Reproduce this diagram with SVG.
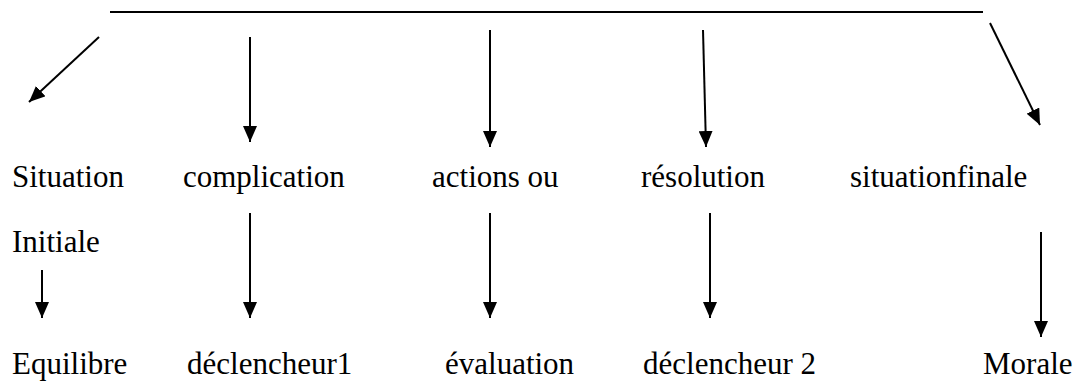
<svg xmlns="http://www.w3.org/2000/svg" width="1080" height="385" viewBox="0 0 1080 385">
<style>
text{font-family:"Liberation Serif","Times New Roman",serif;font-size:31px;fill:#000}
.c line{stroke:#000;stroke-width:2}
</style>
<defs>
<marker id="ah" markerWidth="16" markerHeight="14" refX="16" refY="7" orient="auto" markerUnits="userSpaceOnUse">
<path d="M0,0 L16,7 L0,14 Z" fill="#000"/>
</marker>
</defs>
<rect width="1080" height="385" fill="#fff"/>
<g class="c" id="connectors">
<line x1="110" y1="12" x2="983" y2="12"/>
<line x1="99" y1="37" x2="29" y2="102" marker-end="url(#ah)"/>
<line x1="250" y1="37" x2="250" y2="142" marker-end="url(#ah)"/>
<line x1="490" y1="30" x2="490" y2="147" marker-end="url(#ah)"/>
<line x1="703" y1="30" x2="706" y2="147" marker-end="url(#ah)"/>
<line x1="990" y1="23" x2="1040" y2="125" marker-end="url(#ah)"/>
<line x1="42" y1="270" x2="42" y2="318" marker-end="url(#ah)"/>
<line x1="250" y1="213" x2="250" y2="318" marker-end="url(#ah)"/>
<line x1="490" y1="213" x2="490" y2="318" marker-end="url(#ah)"/>
<line x1="710" y1="213" x2="710" y2="318" marker-end="url(#ah)"/>
<line x1="1041" y1="232" x2="1041" y2="337" marker-end="url(#ah)"/>
</g>
<g id="n-situation"><text x="12" y="187">Situation</text><text x="12" y="252">Initiale</text></g>
<g id="n-complication"><text x="183" y="187">complication</text></g>
<g id="n-actions"><text x="432" y="187">actions ou</text></g>
<g id="n-resolution"><text x="641" y="187">résolution</text></g>
<g id="n-finale"><text x="850" y="187">situationfinale</text></g>
<g id="n-equilibre"><text x="12" y="374">Equilibre</text></g>
<g id="n-declencheur1"><text x="187" y="374">déclencheur1</text></g>
<g id="n-evaluation"><text x="445" y="374">évaluation</text></g>
<g id="n-declencheur2"><text x="643" y="374">déclencheur 2</text></g>
<g id="n-morale"><text x="983" y="374">Morale</text></g>
</svg>
